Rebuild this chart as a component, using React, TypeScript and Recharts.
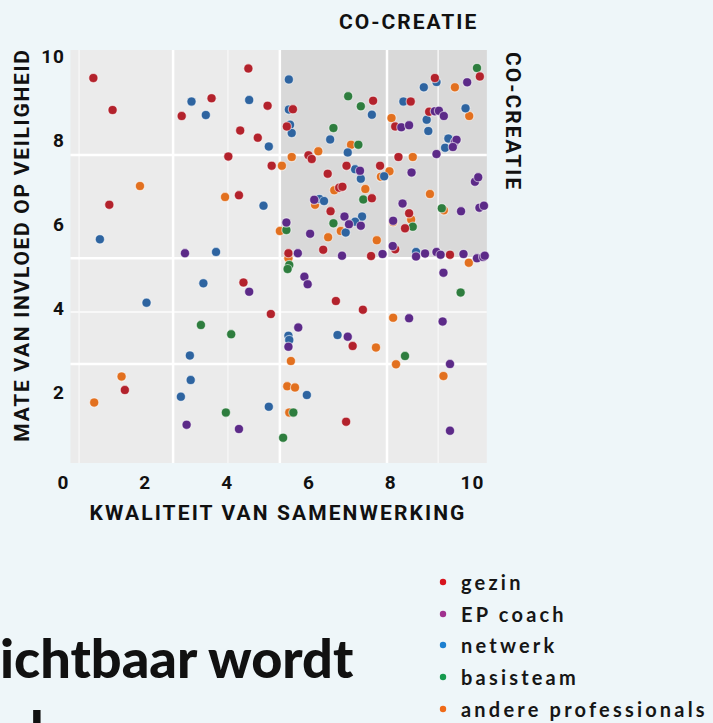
import React from 'react';
import {
  ScatterChart,
  Scatter,
  XAxis,
  YAxis,
  ReferenceArea,
  ReferenceLine,
  Legend,
  Label,
} from 'recharts';

// ---- data ----
const X_TICKS = [0, 2, 4, 6, 8, 10];
const Y_TICKS = [2, 4, 6, 8, 10];

const gezin: [number, number][] = [
  [0.73, 9.48], [1.2, 8.72], [3.62, 9.0], [2.89, 8.58], [4.52, 9.71], [4.99, 8.82], [4.32, 8.23],
  [4.75, 8.06], [4.03, 7.61], [5.09, 7.39], [1.12, 6.46], [4.29, 6.69], [1.5, 2.05], [4.4, 4.61],
  [5.07, 3.86], [5.61, 8.74], [5.46, 8.33], [7.57, 8.94], [5.99, 7.64], [6.07, 7.55], [6.46, 7.2],
  [6.92, 7.39], [7.74, 7.39], [8.19, 7.6], [6.74, 6.87], [6.82, 6.89], [7.54, 6.62], [6.53, 6.31],
  [8.35, 5.9], [8.45, 6.26], [6.35, 5.39], [5.5, 5.31], [7.52, 5.24], [8.11, 5.4], [9.45, 5.27],
  [8.49, 8.92], [8.94, 8.68], [8.11, 8.33], [9.08, 9.48], [10.18, 9.52], [6.66, 4.17], [7.32, 3.96],
  [7.07, 3.1], [6.91, 1.29],
];

const epCoach: [number, number][] = [
  [2.97, 5.31], [3.01, 1.22], [4.29, 1.12], [4.54, 4.39], [5.89, 4.75], [5.97, 4.57], [5.74, 3.54],
  [5.5, 3.08], [6.95, 3.32], [8.45, 3.76], [9.27, 3.68], [9.29, 4.84], [9.45, 2.67], [9.45, 1.08],
  [7.25, 7.27], [8.51, 7.23], [8.26, 8.31], [8.45, 8.36], [9.08, 8.69], [9.18, 8.7], [9.3, 8.58],
  [9.87, 9.38], [9.57, 7.96], [9.61, 8.01], [9.52, 7.84], [9.12, 7.67], [10.06, 7.01], [10.14, 7.12],
  [8.29, 6.49], [9.72, 6.31], [10.17, 6.39], [10.28, 6.44], [6.87, 6.18], [6.98, 6.0], [7.27, 5.96],
  [5.45, 6.04], [6.03, 5.77], [8.06, 6.08], [6.13, 6.58], [5.73, 5.31], [6.81, 5.25], [7.8, 5.29],
  [8.05, 5.48], [8.62, 5.23], [8.84, 5.3], [9.12, 5.34], [9.22, 5.27], [9.78, 5.29], [10.11, 5.19],
  [10.26, 5.22], [10.3, 5.25],
];

const netwerk: [number, number][] = [
  [3.13, 8.92], [3.48, 8.6], [4.54, 8.96], [5.02, 7.85], [4.89, 6.44], [0.89, 5.64], [3.73, 5.34],
  [3.42, 4.59], [2.03, 4.13], [3.09, 2.87], [3.11, 2.29], [2.87, 1.89], [5.02, 1.65], [5.5, 3.34],
  [5.52, 3.24], [6.7, 3.36], [5.95, 1.93], [5.51, 9.45], [5.51, 8.73], [5.54, 8.37], [5.58, 8.17],
  [7.54, 8.61], [6.52, 8.02], [6.95, 7.71], [7.13, 7.31], [7.27, 7.08], [7.84, 7.14], [6.26, 6.6],
  [6.37, 6.55], [7.3, 6.18], [6.9, 5.8], [7.13, 6.06], [8.31, 8.92], [8.81, 9.26], [9.12, 9.39],
  [9.83, 8.76], [8.88, 8.49], [8.92, 8.22], [9.41, 8.04], [9.33, 7.82], [8.62, 5.34],
];

const basisteam: [number, number][] = [
  [3.36, 3.6], [4.1, 3.38], [3.97, 1.51], [5.37, 0.91], [5.52, 5.03], [5.48, 4.93], [5.62, 1.51],
  [8.35, 2.86], [9.71, 4.37], [6.96, 9.05], [7.27, 8.81], [6.6, 8.29], [7.21, 7.89], [7.33, 6.59],
  [6.6, 6.02], [5.45, 5.86], [8.54, 5.94], [9.25, 6.38], [10.11, 9.72],
];

const andere: [number, number][] = [
  [1.87, 6.91], [3.95, 6.65], [1.42, 2.37], [0.75, 1.75], [5.5, 5.19], [5.56, 2.74], [5.47, 2.14],
  [5.66, 2.11], [5.52, 1.51], [8.06, 3.77], [7.64, 3.06], [8.13, 2.66], [9.29, 2.38], [9.91, 5.08],
  [5.34, 7.39], [5.58, 7.6], [6.23, 7.74], [7.03, 7.89], [6.62, 6.81], [7.38, 6.84], [7.76, 7.13],
  [7.97, 7.26], [8.54, 7.6], [8.02, 8.53], [9.57, 9.26], [9.92, 8.58], [8.96, 6.72], [9.3, 6.33],
  [6.15, 6.46], [6.78, 5.84], [6.47, 5.69], [5.29, 5.84], [7.66, 5.62], [8.5, 6.11], [8.06, 6.05],
];

const SERIES = [
  { name: 'gezin', points: gezin, color: '#b3222c', legendColor: '#d7141e' },
  { name: 'EP coach', points: epCoach, color: '#5c2a88', legendColor: '#a0318f' },
  { name: 'netwerk', points: netwerk, color: '#2e64a0', legendColor: '#1c7fd0' },
  { name: 'basisteam', points: basisteam, color: '#2e7d3e', legendColor: '#159a4e' },
  { name: 'andere professionals', points: andere, color: '#e2701f', legendColor: '#ef6a18' },
];
const DRAW_ORDER = ['andere professionals', 'basisteam', 'netwerk', 'gezin', 'EP coach'];

// ---- layout constants ----
const X_DOMAIN: [number, number] = [0, 10.35];
const Y_DOMAIN: [number, number] = [0, 10.15];
const PLOT_BOX = { x1: 0.17, x2: 10.35, y1: 0.31, y2: 10.15 };
const COCREATIE_BOX = { x1: 5.29, x2: 10.35, y1: 5.19, y2: 10.15 };
const V_LINES = [2.68, 5.29, 7.91];
const V_LINES_FAINT = [0.38, 4.02, 9.16];
const H_LINES = [2.67, 5.19, 7.65];
const H_LINES_FAINT = [3.91];

const COND = "Roboto, 'DejaVu Sans', sans-serif";
const ROUND = "Lato, 'Open Sans', sans-serif";
const BG = '#eef6f9';

const Dot = (props: any) => {
  const { cx, cy, fill } = props;
  if (cx == null || cy == null) return null;
  return (
    <circle cx={cx} cy={cy} r={4.6} fill={fill} stroke="rgba(255,255,255,0.55)" strokeWidth={1.2} />
  );
};

const renderLegend = () => (
  <div style={{ fontFamily: ROUND, fontWeight: 700, fontSize: 20, letterSpacing: 3.2, color: '#161616' }}>
    {SERIES.map((s) => (
      <div key={s.name} style={{ height: 31.75, display: 'flex', alignItems: 'center', whiteSpace: 'nowrap' }}>
        <svg width={24} height={10} style={{ flex: 'none' }}>
          <circle cx={6} cy={5} r={3.2} fill={s.legendColor} />
        </svg>
        <span>{s.name}</span>
      </div>
    ))}
  </div>
);

const tickStyle = {
  fontFamily: COND,
  fontWeight: 700,
  fontSize: 19,
  fill: '#111',
  letterSpacing: 1,
};

const titleProps = {
  fontFamily: COND,
  fontWeight: 700,
  fontSize: 21,
  letterSpacing: 2.1,
  fill: '#111',
};

export default function App() {
  return (
    <div style={{ position: 'absolute', left: 0, top: 0, width: 713, height: 723, background: BG, overflow: 'hidden' }}>
      <ScatterChart
        width={713}
        height={723}
        margin={{ top: 50, right: 226.2, bottom: 217, left: 33.5 }}
      >
        <XAxis
          type="number"
          dataKey="x"
          domain={X_DOMAIN}
          ticks={X_TICKS}
          axisLine={false}
          tickLine={false}
          tickSize={0}
          tickMargin={0}
          height={30}
          tick={tickStyle}
        >
          <Label
            content={() => (
              <text x={278} y={520} textAnchor="middle" {...titleProps}>
                KWALITEIT VAN SAMENWERKING
              </text>
            )}
          />
        </XAxis>
        <YAxis
          type="number"
          dataKey="y"
          domain={Y_DOMAIN}
          ticks={Y_TICKS}
          axisLine={false}
          tickLine={false}
          tickSize={0}
          tickMargin={0}
          width={30}
          tick={{ ...tickStyle, dx: 1.5 }}
        >
          <Label
            content={() => (
              <text x={29} y={245} transform="rotate(-90 29 245)" textAnchor="middle" {...titleProps} letterSpacing={1.7}>
                MATE VAN INVLOED OP VEILIGHEID
              </text>
            )}
          />
        </YAxis>
        <ReferenceArea {...PLOT_BOX} fill="#ebebeb" fillOpacity={1} stroke="none" ifOverflow="visible" />
        <ReferenceArea {...COCREATIE_BOX} fill="#d9d9d9" fillOpacity={1} stroke="none" ifOverflow="visible" />
        {V_LINES_FAINT.map((v) => (
          <ReferenceLine key={'vf' + v} segment={[{ x: v, y: PLOT_BOX.y1 }, { x: v, y: PLOT_BOX.y2 }]} stroke="#f6f6f6" strokeWidth={1.5} ifOverflow="visible" />
        ))}
        {H_LINES_FAINT.map((v) => (
          <ReferenceLine key={'hf' + v} segment={[{ x: PLOT_BOX.x1, y: v }, { x: PLOT_BOX.x2, y: v }]} stroke="#f8f8f8" strokeWidth={2} ifOverflow="visible" />
        ))}
        {V_LINES.map((v) => (
          <ReferenceLine key={'v' + v} segment={[{ x: v, y: PLOT_BOX.y1 }, { x: v, y: PLOT_BOX.y2 }]} stroke="#ffffff" strokeWidth={2.5} ifOverflow="visible" />
        ))}
        {H_LINES.map((v) => (
          <ReferenceLine key={'h' + v} segment={[{ x: PLOT_BOX.x1, y: v }, { x: PLOT_BOX.x2, y: v }]} stroke="#ffffff" strokeWidth={2.5} ifOverflow="visible" />
        ))}
        {DRAW_ORDER.map((n) => {
          const s = SERIES.find((q) => q.name === n)!;
          return (
            <Scatter
              key={s.name}
              name={s.name}
              data={s.points.map(([x, y]) => ({ x, y }))}
              fill={s.color}
              shape={<Dot />}
              isAnimationActive={false}
              legendType="circle"
            />
          );
        })}
        <Legend
          layout="vertical"
          align="center"
          verticalAlign="middle"
          content={renderLegend}
          wrapperStyle={{ position: 'absolute', left: 437, top: 566, width: 276, height: 165 }}
        />
      </ScatterChart>

      <div
        style={{
          position: 'absolute', left: 339, top: 9, fontFamily: COND, fontWeight: 700, fontSize: 21,
          letterSpacing: 2, color: '#111', lineHeight: '26px', whiteSpace: 'nowrap',
        }}
      >
        CO-CREATIE
      </div>
      <div
        style={{
          position: 'absolute', left: 500, top: 52, writingMode: 'vertical-rl', fontFamily: COND,
          fontWeight: 700, fontSize: 21, letterSpacing: 2, color: '#111', lineHeight: '26px',
        }}
      >
        CO-CREATIE
      </div>
      <div
        style={{
          position: 'absolute', left: 0, top: 627, fontFamily: ROUND, fontWeight: 900, fontSize: 54,
          letterSpacing: 0, color: '#111', lineHeight: '62px', whiteSpace: 'nowrap',
        }}
      >
        ichtbaar wordt
      </div>
      <div
        style={{
          position: 'absolute', left: 30, top: 699, fontFamily: ROUND, fontWeight: 900, fontSize: 54,
          color: '#111', lineHeight: '62px', whiteSpace: 'nowrap',
        }}
      >
        l
      </div>
    </div>
  );
}
